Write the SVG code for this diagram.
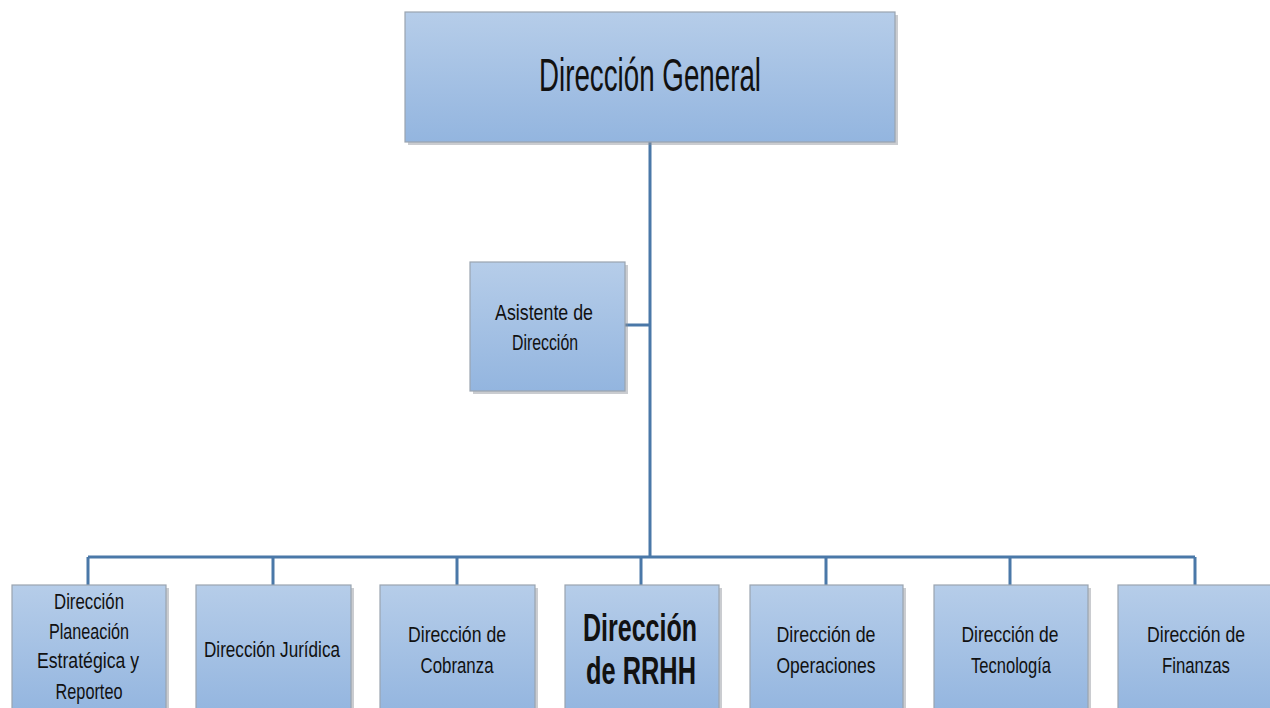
<svg xmlns="http://www.w3.org/2000/svg" width="1270" height="708" viewBox="0 0 1270 708">
<defs>
<linearGradient id="g" x1="0" y1="0" x2="0" y2="1">
<stop offset="0" stop-color="#b6cde9"/>
<stop offset="1" stop-color="#93b5df"/>
</linearGradient>
</defs>
<style>
.box{fill:url(#g);stroke:#9aa4b0;stroke-width:1.2}
.sh{fill:#8a8f96;opacity:0.45}
.t{font-family:"Liberation Sans",Arial,sans-serif;fill:#111;text-anchor:middle}
.s{font-size:22.5px}
.c{fill:none;stroke:#4a78a8;stroke-width:3}
</style>
<rect width="1270" height="708" fill="#fff"/>
<g id="connectors">
<path class="c" d="M650 142 V557 M625 325 H650 M88 557 H1195 M88 557 V585 M273 557 V585 M457 557 V585 M641 557 V585 M826 557 V585 M1010 557 V585 M1195 557 V585"/>
</g>
<g id="n-general">
<rect class="sh" x="408" y="15" width="490" height="130"/>
<rect class="box" x="405" y="12" width="490" height="130"/>
<text class="t" x="650" y="91" font-size="46" textLength="222" lengthAdjust="spacingAndGlyphs">Dirección General</text>
</g>
<g id="n-asistente">
<rect class="sh" x="473" y="265" width="155" height="129"/>
<rect class="box" x="470" y="262" width="155" height="129"/>
<text class="t s" x="544" y="320" textLength="98" lengthAdjust="spacingAndGlyphs">Asistente de</text>
<text class="t s" x="545" y="350" textLength="66" lengthAdjust="spacingAndGlyphs">Dirección</text>
</g>
<g id="n-planeacion">
<rect class="sh" x="15" y="588" width="154" height="130"/>
<rect class="box" x="12" y="585" width="154" height="130"/>
<text class="t s" x="89" y="609" textLength="70" lengthAdjust="spacingAndGlyphs">Dirección</text>
<text class="t s" x="89" y="639" textLength="80" lengthAdjust="spacingAndGlyphs">Planeación</text>
<text class="t s" x="88" y="668" textLength="102" lengthAdjust="spacingAndGlyphs">Estratégica y</text>
<text class="t s" x="89" y="699" textLength="67" lengthAdjust="spacingAndGlyphs">Reporteo</text>
</g>
<g id="n-juridica">
<rect class="sh" x="199" y="588" width="155" height="130"/>
<rect class="box" x="196" y="585" width="155" height="130"/>
<text class="t s" x="272" y="657" textLength="136" lengthAdjust="spacingAndGlyphs">Dirección  Jurídica</text>
</g>
<g id="n-cobranza">
<rect class="sh" x="383" y="588" width="155" height="130"/>
<rect class="box" x="380" y="585" width="155" height="130"/>
<text class="t s" x="457" y="642" textLength="98" lengthAdjust="spacingAndGlyphs">Dirección de</text>
<text class="t s" x="457" y="673" textLength="73" lengthAdjust="spacingAndGlyphs">Cobranza</text>
</g>
<g id="n-rrhh">
<rect class="sh" x="568" y="588" width="154" height="130"/>
<rect class="box" x="565" y="585" width="154" height="130"/>
<text class="t" x="640" y="641" font-size="39" font-weight="bold" textLength="114" lengthAdjust="spacingAndGlyphs">Dirección</text>
<text class="t" x="641" y="684" font-size="39" font-weight="bold" textLength="110" lengthAdjust="spacingAndGlyphs">de RRHH</text>
</g>
<g id="n-operaciones">
<rect class="sh" x="753" y="588" width="153" height="130"/>
<rect class="box" x="750" y="585" width="153" height="130"/>
<text class="t s" x="826" y="642" textLength="99" lengthAdjust="spacingAndGlyphs">Dirección de</text>
<text class="t s" x="826" y="673" textLength="99" lengthAdjust="spacingAndGlyphs">Operaciones</text>
</g>
<g id="n-tecnologia">
<rect class="sh" x="937" y="588" width="154" height="130"/>
<rect class="box" x="934" y="585" width="154" height="130"/>
<text class="t s" x="1010" y="642" textLength="97" lengthAdjust="spacingAndGlyphs">Dirección de</text>
<text class="t s" x="1011" y="673" textLength="80" lengthAdjust="spacingAndGlyphs">Tecnología</text>
</g>
<g id="n-finanzas">
<rect class="sh" x="1121" y="588" width="154" height="130"/>
<rect class="box" x="1118" y="585" width="154" height="130"/>
<text class="t s" x="1196" y="642" textLength="98" lengthAdjust="spacingAndGlyphs">Dirección de</text>
<text class="t s" x="1196" y="673" textLength="68" lengthAdjust="spacingAndGlyphs">Finanzas</text>
</g>
</svg>
